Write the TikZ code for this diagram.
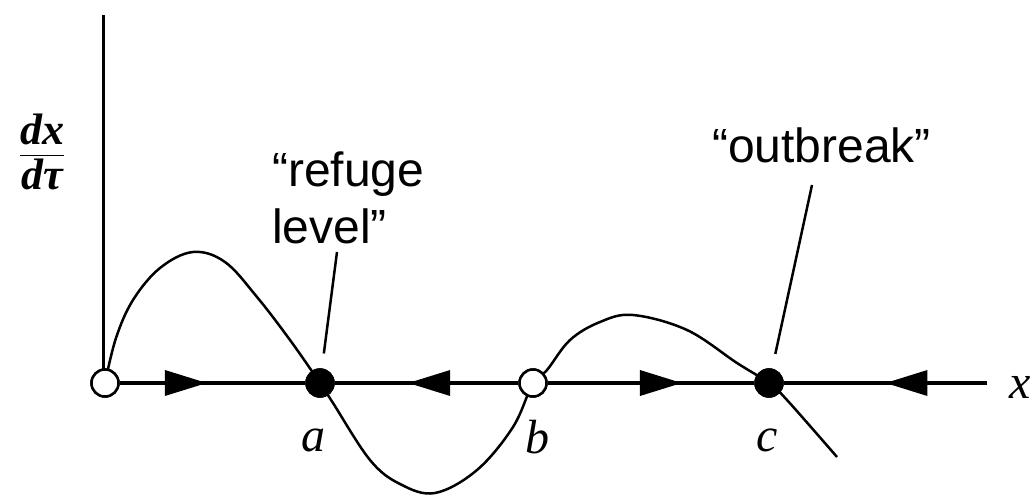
\documentclass[tikz,border=0pt]{standalone}
\usepackage{fontspec}
\setmainfont{Liberation Serif}
\newfontfamily\labelfont{Liberation Sans}
\usepackage{amsmath}
\usetikzlibrary{arrows.meta,decorations.markings}

\begin{document}
\begin{tikzpicture}[x=1pt,y=-1pt,
    fixpt/.style={circle,draw,line width=2.5pt,minimum size=27pt,inner sep=0pt},
    stable/.style={fixpt,fill=black},
    unstable/.style={fixpt,fill=white},
    flow/.style={line width=3.5pt,postaction={decorate},
      decoration={markings,mark=at position #1 with {\arrow{Triangle[length=42pt,width=25pt]}}}},
    leader/.style={line width=2.5pt,shorten >=15pt},
    lbl/.style={font=\fontsize{48}{56}\selectfont\itshape},
    callout/.style={font=\labelfont\fontsize{48}{57}\selectfont,align=left,inner sep=0pt}]
	\useasboundingbox (0,0) rectangle (1035,495);
	% fixed points on the x axis
	\node[unstable] (o) at (105,383) {};
	\node[stable] (a) at (320,383) {};
	\node[unstable] (b) at (533,383) {};
	\node[stable] (c) at (769,383) {};
	\coordinate (xend) at (987,383);
	\coordinate (ytop) at (103,15);
	% axes
	\draw[line width=3pt] (ytop) -- (ytop |- o);
	\draw[flow=0.47] (o) -- (a);
	\draw[flow=0.6] (b) -- (a);
	\draw[flow=0.65] (b) -- (c);
	\draw[flow=0.5] (xend) -- (c);
	% rate curve
	\draw[line width=2.5pt] plot[smooth,tension=0.6] coordinates {(105,383) (116,338) (133,300) (160,268) (193,252) (225,262) (257,297) (290,340) (320,383) (333,403) (370,460) (400,484) (435,493) (477,470) (513,427) (533,383) (547,370) (570,340) (600,322) (633,315) (687,330) (737,363) (769,383) (787,400) (837,457)};
	\node[unstable] at (o) {};
	\node[stable] at (a) {};
	\node[unstable] at (b) {};
	\node[stable] at (c) {};
	% labels
	\node[lbl] (la) at (313,440) {a};
	\node[lbl] (lb) at (537,437) {b};
	\node[lbl] (lc) at (767,440) {c};
	\node[lbl] (lx) at (1020,387) {x};
	\node[font=\fontsize{44}{50}\selectfont\bfseries] (ylab) at (42,152) {$\dfrac{\textit{dx}}{\textit{dτ}}$};
	\node[callout,anchor=north west] (refuge) at (272,152) {“refuge\\level”};
	\node[callout,anchor=north west] (outbreak) at (712,128) {“outbreak”};
	\coordinate (rfoot) at (337,252);
	\coordinate (ofoot) at (812,185);
	\draw[leader] (rfoot) -- (a);
	\draw[leader] (ofoot) -- (c);
\end{tikzpicture}
\end{document}
